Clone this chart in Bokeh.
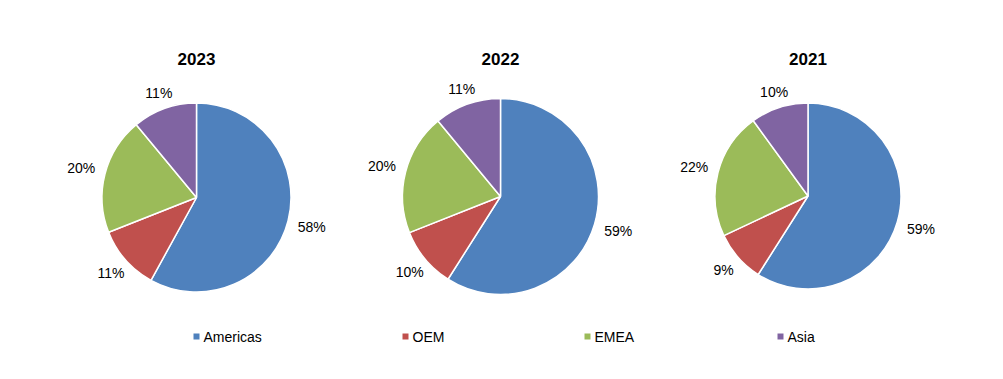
import math
from bokeh.plotting import figure
from bokeh.models import Range1d, ColumnDataSource
from bokeh.core.properties import value
from bokeh.embed import file_html
from bokeh.resources import INLINE

regions = ["Americas", "OEM", "EMEA", "Asia"]
colors = ["#4F81BD", "#C0504D", "#9BBB59", "#8064A2"]
years = ["2023", "2022", "2021"]
share_2023 = [58, 11, 20, 11]
share_2022 = [59, 10, 20, 11]
share_2021 = [59, 9, 22, 10]
shares = [share_2023, share_2022, share_2021]

W, H = 987, 363
# pie layout in screen pixel coords
centers = [(196, 197, 94.5), (500, 196, 98), (807.5, 195.5, 93)]
title_y = 58
legend_x = [196, 405, 587, 780]
legend_y = 336
FS = 14

def px(x):
    return x

def py(y):
    return H - y

p = figure(width=W, height=H, output_backend="svg", toolbar_location=None,
           x_range=Range1d(0, W), y_range=Range1d(0, H), min_border=0)
p.axis.visible = False
p.grid.visible = False
p.outline_line_color = None
p.background_fill_color = "white"
p.border_fill_color = "white"

for yr, vals, (cx, cy, r) in zip(years, shares, centers):
    total = float(sum(vals))
    cum = 0.0
    starts, ends, lx, ly, labels = [], [], [], [], []
    for v in vals:
        a0 = cum / total
        cum += v
        a1 = cum / total
        starts.append(math.pi / 2 - a1 * 2 * math.pi)
        ends.append(math.pi / 2 - a0 * 2 * math.pi)
        mid = math.pi / 2 - (a0 + a1) / 2 * 2 * math.pi
        lab = f"{v}%"
        hw = FS * (0.556 * (len(lab) - 1) + 0.889) / 2
        hh = FS * 0.45
        c, s = math.cos(mid), math.sin(mid)
        ext = min(hw / max(abs(c), 1e-6), hh / max(abs(s), 1e-6))
        rl = r + 10 + ext
        lx.append(px(cx) + rl * c)
        ly.append(py(cy) + rl * s)
        labels.append(lab)
    src = ColumnDataSource(dict(start=starts, end=ends, color=colors,
                                lx=lx, ly=ly, label=labels))
    p.wedge(x=px(cx), y=py(cy), radius=r, start_angle="start", end_angle="end",
            fill_color="color", line_color="white", line_width=1.5, source=src)
    p.text(x="lx", y="ly", text="label", source=src, text_align="center",
           text_baseline="middle", text_font=value("Liberation Sans"),
           text_font_size=f"{FS}px", text_color="#000000")
    p.text(x=[px(cx)], y=[py(title_y)], text=[yr], text_align="center",
           text_baseline="middle", text_font=value("Liberation Sans"),
           text_font_size="17px", text_font_style="bold", text_color="#000000")

p.scatter(x=[px(v) for v in legend_x], y=[py(legend_y)] * 4, marker="square",
          size=6, fill_color=colors, line_color=None)
p.text(x=[px(v) + 7 for v in legend_x], y=[py(legend_y)] * 4, text=regions,
       text_align="left", text_baseline="middle",
       text_font=value("Liberation Sans"), text_font_size="14px",
       text_color="#000000")

open("out.html", "w").write(file_html(p, INLINE))
